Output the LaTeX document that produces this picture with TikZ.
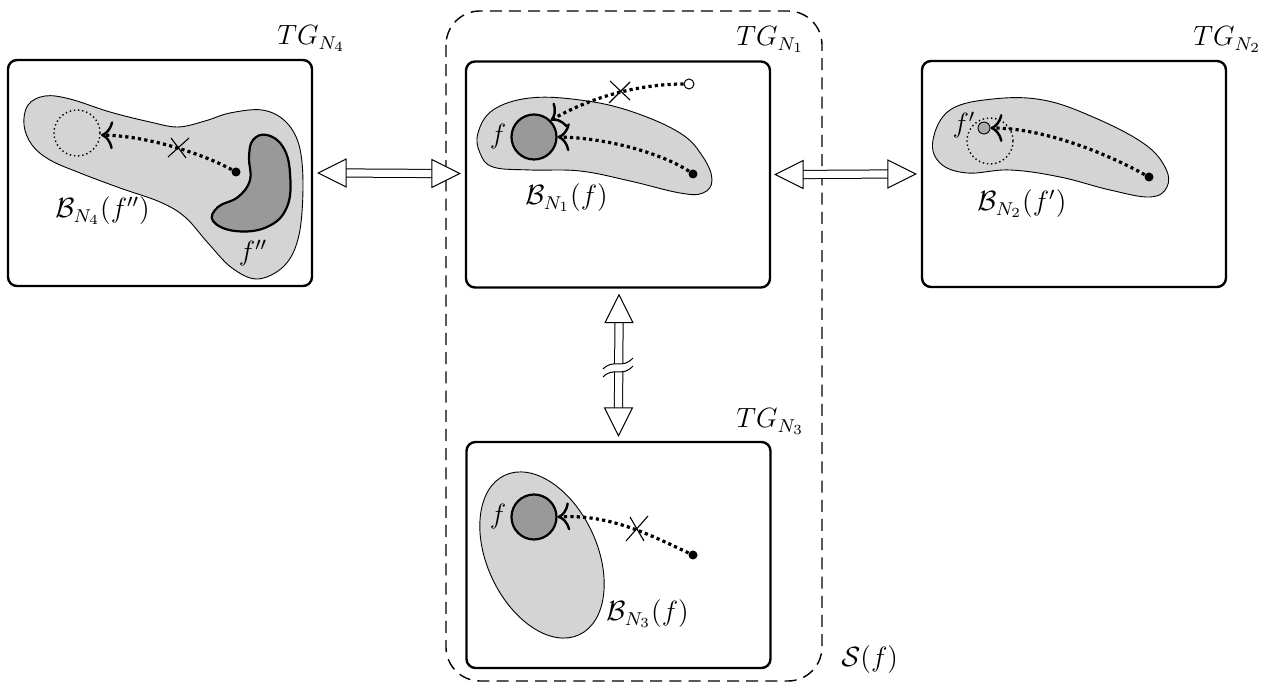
\documentclass[tikz,border=0pt]{standalone}
\usepackage{amsmath}
\usetikzlibrary{arrows.meta,calc}
\definecolor{lightblob}{gray}{0.83}
\definecolor{darkblob}{gray}{0.6}
\definecolor{fprime}{gray}{0.67}
\tikzset{
  tgbox/.style={draw, line width=1.2pt, rounded corners=4.5pt, minimum width=152pt, minimum height=113pt, inner sep=0pt},
  blob/.style={fill=lightblob, draw, line width=0.45pt},
  region/.style={fill=darkblob, draw, line width=1.1pt},
  walk/.style={line width=1.6pt, dash pattern=on 1.6pt off 1.6pt, -{Computer Modern Rightarrow[length=6pt,width=14pt,line width=1.2pt]}},
  dotcirc/.style={draw, line width=0.7pt, dash pattern=on 0.7pt off 1.4pt},
  shaft/.style={double, double distance=3.6pt, line width=0.5pt},
  head/.style={draw, fill=white, line width=0.5pt, line join=miter},
  cross/.style={line width=0.55pt},
  lbl/.style={inner sep=0pt, font=\large, scale=1.16, transform shape},
  startdot/.style={circle, fill=black, inner sep=0pt, minimum size=4.5pt},
  opendot/.style={circle, draw, fill=white, line width=0.5pt, inner sep=0pt, minimum size=5pt}
}
\begin{document}
\begin{tikzpicture}[x=0.5pt,y=-0.5pt]
\useasboundingbox (0,0) rectangle (1266,683);

% dashed group S(f)
\draw[line width=0.7pt, dash pattern=on 6pt off 3.6pt, rounded corners=17pt] (446,11) rectangle (822,681);
\node[lbl, anchor=base west] (Slbl) at (841,667) {$\mathcal{S}(f)$};

% boxes
\node[tgbox] (N4) at (160,173) {};
\node[tgbox] (N1) at (618,174.5) {};
\node[tgbox] (N2) at (1074,174) {};
\node[tgbox] (N3) at (618.5,555) {};

\node[lbl, anchor=base west] (L4) at (277,45) {$TG_{N_4}$};
\node[lbl, anchor=base west] (L1) at (736,46) {$TG_{N_1}$};
\node[lbl, anchor=base west] (L2) at (1193,46) {$TG_{N_2}$};
\node[lbl, anchor=base west] (L3) at (736,428) {$TG_{N_3}$};

% ---------- box N4 ----------
\draw[blob] plot[smooth cycle, tension=0.6] coordinates {
  (24,125) (28,105) (45,96) (70,99) (110,112) (150,122) (178,127) (205,121)
  (230,113) (262,110) (285,121) (299,145) (303,185) (299,235) (285,265)
  (258,279) (232,268) (208,243) (185,217) (160,202) (120,188) (80,173)
  (50,160) (32,145)};
\draw[region] plot[smooth cycle, tension=0.7] coordinates {
  (253,140) (267,135) (283,147) (290,173) (287,207) (267,227) (235,231)
  (213,221) (218,207) (238,197) (250,180) (249,157)};
\draw[dotcirc] (77,133) circle (23);
\node[startdot] (s4) at (236,172) {};
\coordinate (t4) at (101,135);
\draw[walk] (s4) .. controls (205,155) and (150,136) .. (t4);
\draw[cross] (168,157) -- (189,138);
\draw[cross] (171,138) -- (186,158);
\node[lbl, anchor=west] (B4) at (55,211) {$\mathcal{B}_{N_4}(f'')$};
\node[lbl] (f4) at (253,253) {$f''$};

% ---------- box N1 ----------
\draw[blob] plot[smooth cycle, tension=0.65] coordinates {
  (478,133) (493,110) (530,98) (580,100) (630,111) (680,133) (703,157)
  (712,180) (703,193) (680,193) (630,181) (580,171) (530,170) (493,167) (480,153)};
\node[circle, region, minimum size=22.5pt, inner sep=0pt] (f1) at (534,137) {};
\node[lbl] (f1l) at (498,137) {$f$};
\node[startdot] (s1) at (693,174) {};
\node[opendot] (o1) at (689,84) {};
\draw[walk] (s1) .. controls (665,155) and (610,138) .. (f1.east);
\draw[walk] (o1) .. controls (650,84) and (600,92) .. (f1.north east);
\draw[cross] (609,103) -- (630,82);
\draw[cross] (610,81) -- (630,100);
\node[lbl, anchor=west] (B1) at (525,198) {$\mathcal{B}_{N_1}(f)$};

% ---------- box N2 ----------
\draw[blob] plot[smooth cycle, tension=0.65] coordinates {
  (933,140) (950,110) (993,99) (1043,100) (1093,117) (1143,143) (1165,167)
  (1167,187) (1150,197) (1110,190) (1060,177) (1010,170) (967,173) (940,163)};
\draw[dotcirc] (990,141) circle (23);
\node[circle, fill=fprime, draw, line width=0.45pt, minimum size=6pt, inner sep=0pt] (f2) at (984,128) {};
\node[lbl] (f2l) at (964,125) {$f'$};
\node[startdot] (s2) at (1149,177) {};
\draw[walk] (s2) .. controls (1100,150) and (1040,128) .. (f2.east);
\node[lbl, anchor=west] (B2) at (977,204) {$\mathcal{B}_{N_2}(f')$};

% ---------- box N3 ----------
\draw[blob] (542,555) circle [x radius=44pt, y radius=27.5pt, rotate=-65];
\node[circle, region, minimum size=22.5pt, inner sep=0pt] (f3) at (534,517) {};
\node[lbl] (f3l) at (498,517) {$f$};
\node[startdot] (s3) at (693,555) {};
\draw[walk] (s3) .. controls (650,535) and (610,514) .. (f3.east);
\draw[cross] (626,541) -- (648,516);
\draw[cross] (630,517) -- (644,541);
\node[lbl, anchor=west] (B3) at (606,614) {$\mathcal{B}_{N_3}(f)$};

% ---------- double arrows ----------
\coordinate (h1a) at ($(N4.east)+(5,0)$);
\coordinate (h1b) at ($(N1.west)+(-5,-1)$);
\coordinate (h2a) at ($(N1.east)+(4,0)$);
\coordinate (h2b) at ($(N2.west)+(-5,0)$);
\coordinate (v1a) at ($(N1.south)+(1,6)$);
\coordinate (v1b) at ($(N3.north)+(0,-5)$);

\draw[shaft] ($(h1a)+(28,0)$) -- ($(h1b)+(-28,0)$);
\draw[head] (h1a) -- ++(28,-14) -- ++(0,28) -- cycle;
\draw[head] (h1b) -- ++(-28,-14) -- ++(0,28) -- cycle;

\draw[shaft] ($(h2a)+(28,0)$) -- ($(h2b)+(-28,0)$);
\draw[head] (h2a) -- ++(28,-14) -- ++(0,28) -- cycle;
\draw[head] (h2b) -- ++(-28,-14) -- ++(0,28) -- cycle;

\draw[shaft] ($(v1a)+(0,28)$) -- ($(v1b)+(0,-28)$);
\draw[head] (v1a) -- ++(-14,28) -- ++(28,0) -- cycle;
\draw[head] (v1b) -- ++(-14,-28) -- ++(28,0) -- cycle;
% break mark on the vertical arrow
\fill[white] (603,369) .. controls (614,358) and (622,370) .. (633,358)
  -- (633,366) .. controls (622,378) and (614,366) .. (603,377) -- cycle;
\draw[line width=0.5pt] (603,369) .. controls (614,358) and (622,370) .. (633,358);
\draw[line width=0.5pt] (603,377) .. controls (614,366) and (622,378) .. (633,366);
\end{tikzpicture}
\end{document}
